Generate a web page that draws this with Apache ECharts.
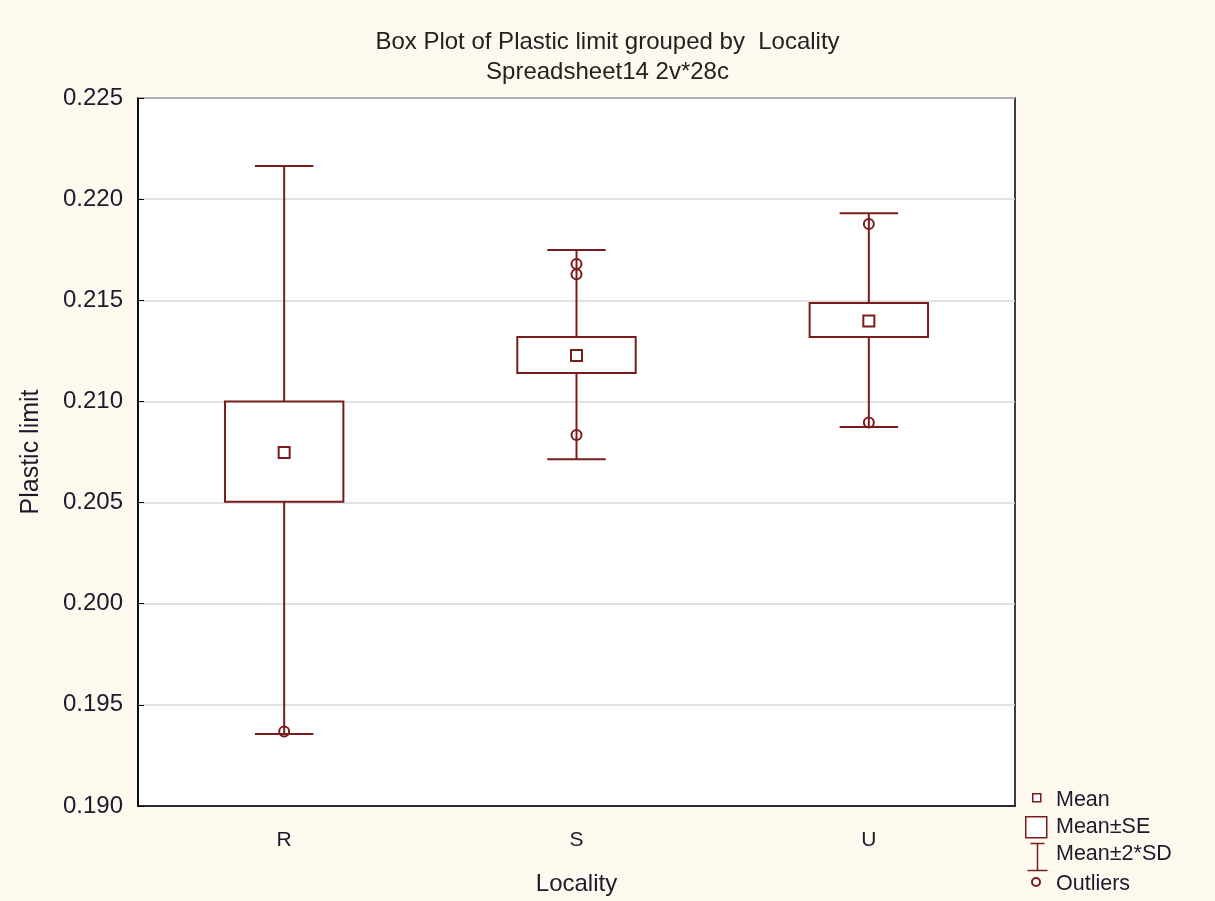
<!DOCTYPE html>
<html>
<head>
<meta charset="utf-8">
<script src="https://cdn.jsdelivr.net/npm/echarts@6/dist/echarts.min.js"></script>
<style>
html,body{margin:0;padding:0;background:#fdf9ef;overflow:hidden;}
#chart{width:1215px;height:901px;}
</style>
</head>
<body>
<div id="chart"></div>
<script>
const categories = ['R', 'S', 'U'];
const means = [0.20747, 0.21227, 0.21397];
const seLow = [0.20504, 0.21141, 0.21318];
const seHigh = [0.21000, 0.21318, 0.21487];
const sdLow = [0.19356, 0.20714, 0.20874];
const sdHigh = [0.22164, 0.21748, 0.21930];
const outliersR = [0.19368];
const outliersS = [0.20834, 0.21629, 0.21679];
const outliersU = [0.20896, 0.21877];
const yTicks = [0.190, 0.195, 0.200, 0.205, 0.210, 0.215, 0.220, 0.225];

const RED = '#7a1c1c';
const TXT = '#1b1b2b';
const FONT = 'Liberation Sans, Arial, sans-serif';

const outlierData = [];
[outliersR, outliersS, outliersU].forEach((arr, i) => arr.forEach(v => outlierData.push([i, v])));

const chart = echarts.init(document.getElementById('chart'), null, { width: 1215, height: 901 });

const option = {
  backgroundColor: '#fdf9ef',
  animation: false,
  title: {
    text: 'Box Plot of Plastic limit grouped by  Locality',
    subtext: 'Spreadsheet14 2v*28c',
    left: 'center',
    top: 25,
    itemGap: 6,
    textStyle: { fontFamily: FONT, fontSize: 24, fontWeight: 'normal', color: '#222' },
    subtextStyle: { fontFamily: FONT, fontSize: 24, color: '#222' }
  },
  grid: {
    left: 138, top: 98, width: 877, height: 709,
    show: true, backgroundColor: '#ffffff', borderColor: '#000', borderWidth: 1.5
  },
  xAxis: {
    type: 'category',
    data: categories,
    name: 'Locality',
    nameLocation: 'middle',
    nameGap: 66,
    nameTextStyle: { fontFamily: FONT, fontSize: 24, color: TXT },
    axisLine: { lineStyle: { color: '#000', width: 1.5 } },
    axisTick: { inside: true, alignWithLabel: true, length: 6, lineStyle: { color: '#000' } },
    axisLabel: { fontFamily: FONT, fontSize: 21, color: TXT, margin: 24 },
    splitLine: { show: false }
  },
  yAxis: {
    type: 'value',
    min: 0.190, max: 0.225, interval: 0.005,
    name: 'Plastic limit',
    nameLocation: 'middle',
    nameGap: 94,
    nameTextStyle: { fontFamily: FONT, fontSize: 25, color: TXT },
    axisLine: { show: true, lineStyle: { color: '#000', width: 1.5 } },
    axisTick: { show: true, inside: true, length: 6, lineStyle: { color: '#000' } },
    axisLabel: {
      fontFamily: FONT, fontSize: 24, color: TXT, margin: 15,
      formatter: v => v.toFixed(3)
    },
    splitLine: { show: true, lineStyle: { color: '#d9d9d9', width: 1.5 } }
  },
  series: [
    {
      name: 'Mean±2*SD',
      type: 'custom',
      z: 2,
      data: categories.map((c, i) => [i, sdLow[i], sdHigh[i]]),
      renderItem: function (params, api) {
        const x = api.value(0);
        const lo = api.coord([x, api.value(1)]);
        const hi = api.coord([x, api.value(2)]);
        const band = api.size([1, 0])[0];
        const capW = band * 0.2;
        const style = { stroke: RED, lineWidth: 2 };
        return {
          type: 'group',
          children: [
            { type: 'line', shape: { x1: lo[0], y1: lo[1], x2: hi[0], y2: hi[1] }, style },
            { type: 'line', shape: { x1: hi[0] - capW / 2, y1: hi[1], x2: hi[0] + capW / 2, y2: hi[1] }, style },
            { type: 'line', shape: { x1: lo[0] - capW / 2, y1: lo[1], x2: lo[0] + capW / 2, y2: lo[1] }, style }
          ]
        };
      }
    },
    {
      name: 'Mean±SE',
      type: 'custom',
      z: 3,
      data: categories.map((c, i) => [i, seLow[i], seHigh[i]]),
      renderItem: function (params, api) {
        const x = api.value(0);
        const lo = api.coord([x, api.value(1)]);
        const hi = api.coord([x, api.value(2)]);
        const band = api.size([1, 0])[0];
        const boxW = band * 0.405;
        return {
          type: 'rect',
          shape: { x: lo[0] - boxW / 2, y: hi[1], width: boxW, height: lo[1] - hi[1] },
          style: { fill: '#ffffff', stroke: RED, lineWidth: 2 }
        };
      }
    },
    {
      name: 'Mean',
      type: 'scatter',
      z: 4,
      symbol: 'rect',
      symbolSize: 11,
      data: categories.map((c, i) => [i, means[i]]),
      itemStyle: { color: '#ffffff', borderColor: RED, borderWidth: 2, opacity: 1 }
    },
    {
      name: 'Outliers',
      type: 'scatter',
      z: 5,
      symbol: 'circle',
      symbolSize: 10,
      data: outlierData,
      itemStyle: { color: 'rgba(255,255,255,0)', borderColor: RED, borderWidth: 2, opacity: 1 }
    }
  ],
  graphic: [
    { type: 'rect', left: 1032, top: 793, shape: { width: 8, height: 8 }, style: { fill: '#fff', stroke: RED, lineWidth: 1.5 } },
    { type: 'text', left: 1056, top: 789, style: { text: 'Mean', font: '21.5px ' + FONT, fill: TXT } },
    { type: 'rect', left: 1025, top: 816, shape: { width: 21, height: 21 }, style: { fill: '#fff', stroke: RED, lineWidth: 1.5 } },
    { type: 'text', left: 1056, top: 816, style: { text: 'Mean±SE', font: '21.5px ' + FONT, fill: TXT } },
    { type: 'group', left: 1025, top: 841, children: [
      { type: 'line', shape: { x1: 10, y1: 0, x2: 10, y2: 27 }, style: { stroke: RED, lineWidth: 1.5 } },
      { type: 'line', shape: { x1: 3, y1: 0, x2: 17, y2: 0 }, style: { stroke: RED, lineWidth: 1.5 } },
      { type: 'line', shape: { x1: 0, y1: 27, x2: 20, y2: 27 }, style: { stroke: RED, lineWidth: 1.5 } }
    ] },
    { type: 'text', left: 1056, top: 843, style: { text: 'Mean±2*SD', font: '21.5px ' + FONT, fill: TXT } },
    { type: 'circle', left: 1031, top: 877, shape: { r: 4 }, style: { fill: '#fff', stroke: RED, lineWidth: 2 } },
    { type: 'text', left: 1056, top: 873, style: { text: 'Outliers', font: '21.5px ' + FONT, fill: TXT } }
  ]
};

chart.setOption(option);
</script>
</body>
</html>
